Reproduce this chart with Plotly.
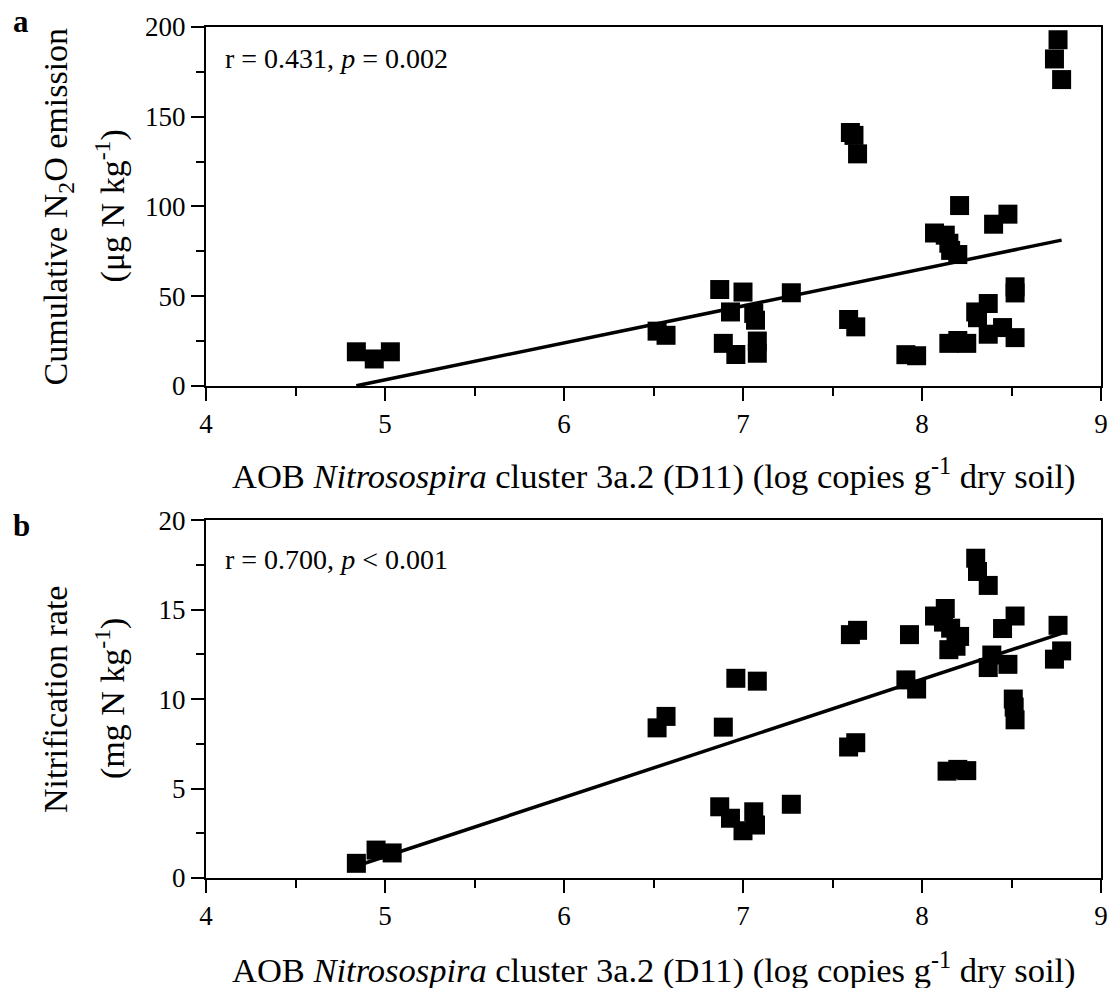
import plotly.graph_objects as go
import numpy as np

# ---------------- data ----------------
xa = [4.84, 4.94, 5.03, 6.52, 6.57, 6.87, 6.93, 6.89, 6.96, 7.00, 7.06, 7.07, 7.08, 7.08, 7.27,
      7.60, 7.62, 7.64, 7.59, 7.63, 7.91, 7.97, 8.07, 8.13, 8.15, 8.16, 8.20, 8.21, 8.15, 8.20,
      8.25, 8.30, 8.31, 8.37, 8.37, 8.45, 8.52, 8.52, 8.52, 8.40, 8.48, 8.76, 8.74, 8.78]
ya = [19.0, 15.0, 19.0, 30.5, 28.2, 53.7, 41.2, 23.7, 17.5, 52.3, 40.4, 36.6, 25.0, 18.2, 51.9,
      141.2, 139.6, 129.3, 37.0, 32.9, 17.4, 16.8, 85.2, 84.0, 79.5, 75.5, 73.2, 100.5, 23.7, 25.3,
      23.7, 41.2, 38.0, 45.9, 28.8, 32.5, 26.9, 55.2, 51.8, 90.1, 95.7, 192.9, 182.2, 170.7]

xb = [4.84, 4.95, 5.04, 6.52, 6.57, 6.89, 6.96, 7.08, 6.87, 6.93, 7.00, 7.06, 7.07, 7.27,
      7.60, 7.64, 7.59, 7.63, 7.93, 7.91, 7.97, 8.14, 8.20, 8.25, 8.07, 8.13, 8.12, 8.16, 8.21,
      8.15, 8.19, 8.30, 8.31, 8.37, 8.45, 8.52, 8.37, 8.39, 8.48, 8.51, 8.515, 8.52, 8.76, 8.74, 8.78]
yb = [0.82, 1.56, 1.40, 8.39, 9.03, 8.43, 11.16, 11.0, 3.98, 3.34, 2.64, 3.70, 2.96, 4.12,
      13.6, 13.84, 7.32, 7.56, 13.6, 11.07, 10.56, 5.97, 6.07, 6.0, 14.64, 15.06, 14.3, 13.96, 13.5,
      12.76, 12.95, 17.87, 17.13, 16.35, 13.94, 14.64, 11.76, 12.46, 11.94, 10.0, 9.55, 8.84, 14.12, 12.23, 12.69]

# linear fits (slope, intercept)
fit_a = (20.6, -99.65)
fit_b = (3.3, -15.3)

stat_a = "r = 0.431, <i>p</i> = 0.002"
stat_b = "r = 0.700, <i>p</i> < 0.001"
xtitle = "AOB <i>Nitrosospira</i> cluster 3a.2 (D11) (log copies g<sup>-1</sup> dry soil)"
ytitle_a = ["Cumulative N<sub>2</sub>O emission", "(μg N kg<sup>-1</sup>)"]
ytitle_b = ["Nitrification rate", "(mg N kg<sup>-1</sup>)"]
x_ticks = [4, 5, 6, 7, 8, 9]
ya_ticks = [0, 50, 100, 150, 200]
yb_ticks = [0, 5, 10, 15, 20]

FONT = "Liberation Serif"

fig = go.Figure()

def add_panel(x, y, fit, xa_name, ya_name):
    fig.add_trace(go.Scatter(x=x, y=y, mode="markers", xaxis=xa_name, yaxis=ya_name,
                             marker=dict(symbol="square", size=19, color="black", line=dict(width=0)),
                             showlegend=False))
    xl = np.array([min(x), max(x)])
    yl = fit[0] * xl + fit[1]
    fig.add_trace(go.Scatter(x=xl, y=yl, mode="lines", xaxis=xa_name, yaxis=ya_name,
                             line=dict(color="black", width=3.5), showlegend=False))

add_panel(xa, ya, fit_a, "x", "y")
add_panel(xb, yb, fit_b, "x2", "y2")

axis_common = dict(showgrid=False, zeroline=False, showline=True, linecolor="black", linewidth=2,
                   mirror=True, ticks="outside", ticklen=13, tickwidth=2, tickcolor="black",
                   tickfont=dict(family=FONT, size=27, color="black"))

def xaxis(anchor):
    return dict(range=[4, 9], tickvals=x_ticks, anchor=anchor,
                minor=dict(ticks="outside", ticklen=8, tickwidth=2, tickcolor="black", dtick=0.5, tick0=4),
                **axis_common)

def yaxis(rng, tv, minor_d, domain, anchor):
    return dict(range=rng, tickvals=tv, domain=domain, anchor=anchor,
                minor=dict(ticks="outside", ticklen=8, tickwidth=2, tickcolor="black", dtick=minor_d, tick0=0),
                **axis_common)

H = 988
top, bot = 22, 110
ph = H - top - bot

fig.update_layout(
    width=1120, height=988,
    margin=dict(l=206, r=14, t=top, b=bot),
    paper_bgcolor="white", plot_bgcolor="white",
    font=dict(family=FONT, color="black"),
    xaxis=xaxis("y"),
    yaxis=yaxis([0, 200], ya_ticks, 25, [(878 - 383) / ph, 1], "x"),
    xaxis2=xaxis("y2"),
    yaxis2=yaxis([0, 20], yb_ticks, 2.5, [0, (878 - 518) / ph], "x2"),
)

ann = []
# x titles
for yref, ys in [("y domain", -64), ("y2 domain", -66)]:
    ann.append(dict(text=xtitle, xref="x domain", yref=yref, x=0.5, y=0, yanchor="top", xanchor="center",
                    yshift=ys, showarrow=False, font=dict(family=FONT, size=34.5, color="black")))
# y titles
for lines, yref, xs in [(ytitle_a, "y domain", (58, 110)),
                        (ytitle_b, "y2 domain", (55, 110))]:
    for t, px in zip(lines, xs):
        ann.append(dict(text=t, xref="paper", yref=yref, x=0, y=0.5, xanchor="center", yanchor="middle",
                        xshift=px - 206, textangle=-90, showarrow=False,
                        font=dict(family=FONT, size=34, color="black")))
# stats
ann.append(dict(text=stat_a, xref="x domain", yref="y domain", x=0, y=1, xanchor="left", yanchor="middle",
                xshift=17, yshift=-31, showarrow=False, font=dict(family=FONT, size=28, color="black")))
ann.append(dict(text=stat_b, xref="x2 domain", yref="y2 domain", x=0, y=1, xanchor="left", yanchor="middle",
                xshift=17, yshift=-39, showarrow=False, font=dict(family=FONT, size=28, color="black")))
# panel letters
ann.append(dict(text="<b>a</b>", xref="paper", yref="paper", x=0, y=1, xanchor="left", yanchor="middle",
                xshift=-206 + 11, yshift=22 - 16, showarrow=False, font=dict(family=FONT, size=31, color="black")))
ann.append(dict(text="<b>b</b>", xref="paper", yref="y2 domain", x=0, y=1, xanchor="left", yanchor="middle",
                xshift=-206 + 11, yshift=518 - 523, showarrow=False, font=dict(family=FONT, size=31, color="black")))

fig.update_layout(annotations=ann)
fig.write_html("out.html")
